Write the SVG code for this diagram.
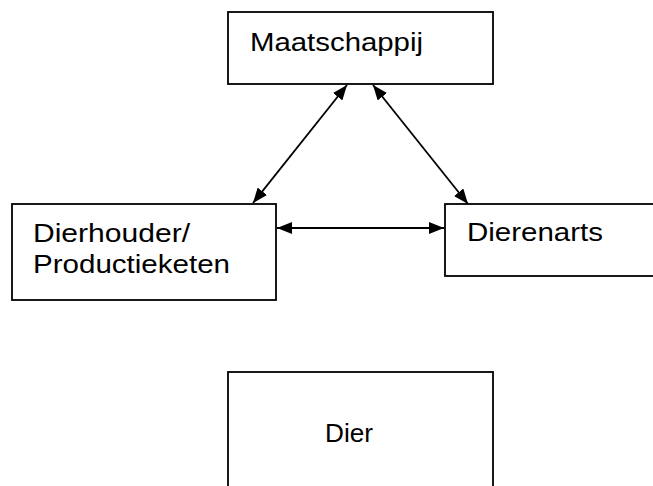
<svg xmlns="http://www.w3.org/2000/svg" width="653" height="486" viewBox="0 0 653 486">
  <style>
    .box { fill: #ffffff; stroke: #000000; stroke-width: 1.8; }
    .lbl { font-family: "Liberation Sans", Arial, sans-serif; font-size: 25px; fill: #000000; }
    .conn { stroke: #000000; stroke-width: 1.8; fill: none; marker-start: url(#arr); marker-end: url(#arr); }
  </style>
  <defs>
    <marker id="arr" viewBox="0 0 15 12" refX="15" refY="6" markerWidth="15" markerHeight="12" markerUnits="userSpaceOnUse" orient="auto-start-reverse">
      <path d="M0,0 L15,6 L0,12 z" fill="#000000"/>
    </marker>
  </defs>
  <rect width="653" height="486" fill="#ffffff"/>

  <g id="maatschappij">
    <rect class="box" x="228" y="12" width="265" height="72"/>
    <text class="lbl" x="250" y="51" textLength="173" lengthAdjust="spacingAndGlyphs">Maatschappij</text>
  </g>

  <g id="dierhouder">
    <rect class="box" x="12" y="204" width="264" height="96"/>
    <text class="lbl" x="33" y="242" textLength="157" lengthAdjust="spacingAndGlyphs">Dierhouder/</text>
    <text class="lbl" x="33" y="273" textLength="197" lengthAdjust="spacingAndGlyphs">Productieketen</text>
  </g>

  <g id="dierenarts">
    <rect class="box" x="445" y="204" width="230" height="72"/>
    <text class="lbl" x="467" y="241" textLength="136" lengthAdjust="spacingAndGlyphs">Dierenarts</text>
  </g>

  <g id="dier">
    <rect class="box" x="228" y="372" width="265" height="130"/>
    <text class="lbl" x="325" y="442" textLength="48" lengthAdjust="spacingAndGlyphs">Dier</text>
  </g>

  <g id="connectors">
    <line class="conn" x1="253" y1="203" x2="347" y2="85"/>
    <line class="conn" x1="468" y1="204" x2="373" y2="85"/>
    <line class="conn" x1="277" y1="228" x2="444" y2="228"/>
  </g>
</svg>
